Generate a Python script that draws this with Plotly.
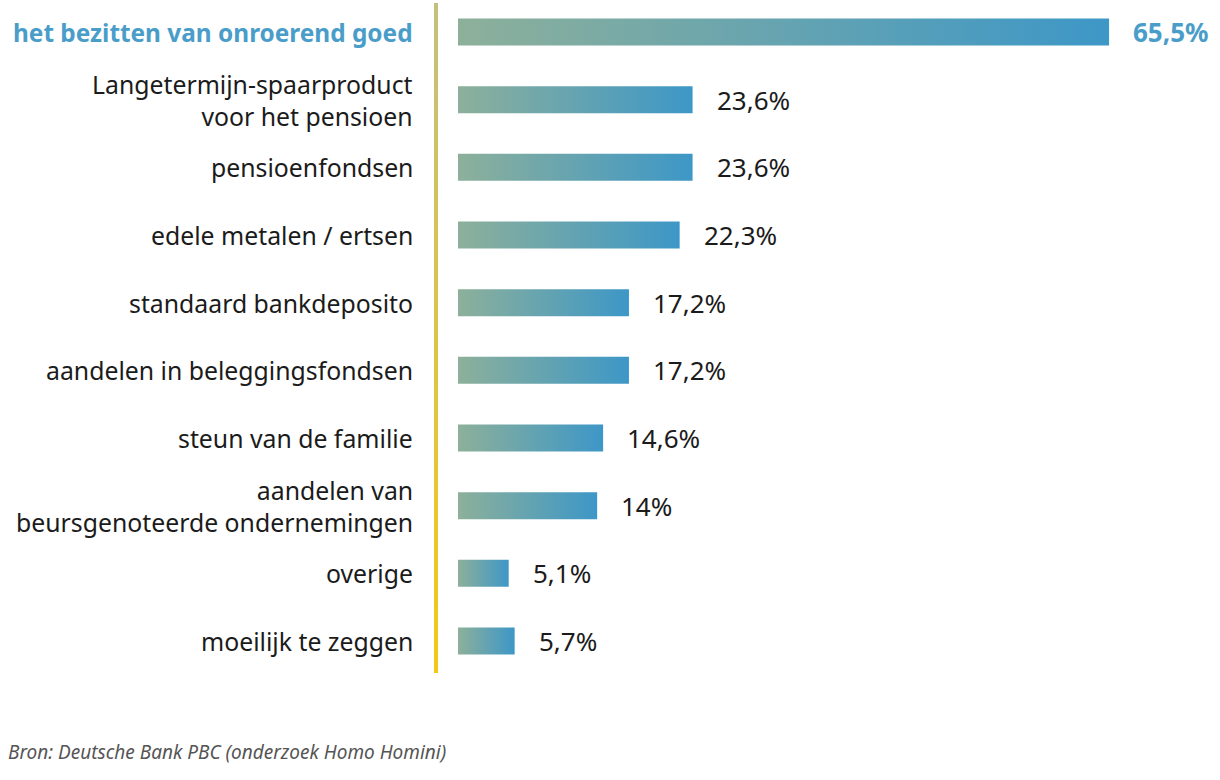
import plotly.graph_objects as go

categories = [
    "het bezitten van onroerend goed",
    "Langetermijn-spaarproduct<br>voor het pensioen",
    "pensioenfondsen",
    "edele metalen / ertsen",
    "standaard bankdeposito",
    "aandelen in beleggingsfondsen",
    "steun van de familie",
    "aandelen van<br>beursgenoteerde ondernemingen",
    "overige",
    "moeilijk te zeggen",
]
values = [65.5, 23.6, 23.6, 22.3, 17.2, 17.2, 14.6, 14.0, 5.1, 5.7]
value_labels = ["65,5%", "23,6%", "23,6%", "22,3%", "17,2%", "17,2%", "14,6%", "14%", "5,1%", "5,7%"]
highlight = [True] + [False] * 9
source = "Bron: Deutsche Bank PBC (onderzoek Homo Homini)"

FONT = "Noto Sans"
BLUE = "#4a9dc9"
DARK = "#1b1b1b"
bar_scale = [[0, "#8db09a"], [1, "#3d97c7"]]
line_scale = [[0, "#f4c814"], [1, "#c4c07c"]]
half = 0.2

fig = go.Figure()
for i, v in enumerate(values):
    fig.add_trace(go.Scatter(
        x=[0, v, v, 0, 0], y=[i - half, i - half, i + half, i + half, i - half],
        mode="lines", line=dict(width=0), fill="toself",
        fillgradient=dict(type="horizontal", colorscale=bar_scale),
        hoverinfo="skip", showlegend=False,
    ))

# vertical gradient axis line
fig.add_trace(go.Scatter(
    x=[0, 0.0051, 0.0051, 0, 0], y=[0, 0, 1, 1, 0],
    xaxis="x2", yaxis="y2",
    mode="lines", line=dict(width=0), fill="toself",
    fillgradient=dict(type="vertical", colorscale=line_scale),
    hoverinfo="skip", showlegend=False,
))

annotations = []
for i, (c, v, lab, h) in enumerate(zip(categories, values, value_labels, highlight)):
    col = BLUE if h else DARK
    txt_c = f"<b>{c}</b>" if h else c
    txt_v = f"<b>{lab}</b>" if h else lab
    annotations.append(dict(
        xref="paper", yref="y", x=0, y=i, xshift=-19, xanchor="right", yanchor="middle",
        text=txt_c, showarrow=False, align="right",
        font=dict(family=FONT, size=24.4 if h else 24.8, color=col),
    ))
    annotations.append(dict(
        xref="x", yref="y", x=v, y=i, xshift=22, xanchor="left", yanchor="middle",
        text=txt_v, showarrow=False,
        font=dict(family=FONT, size=26, color=col),
    ))
annotations.append(dict(
    xref="paper", yref="paper", x=0, y=0, xshift=-428, yshift=-79,
    xanchor="left", yanchor="middle", text=f"<i>{source}</i>", showarrow=False,
    font=dict(family=FONT, size=19, color="#555555"),
))

fig.update_layout(
    width=1220, height=780,
    margin=dict(l=434, r=0, t=3, b=107),
    paper_bgcolor="white", plot_bgcolor="white",
    xaxis=dict(range=[-2.414, 76.66], visible=False, fixedrange=True),
    yaxis=dict(range=[9.473, -0.4286], visible=False, fixedrange=True),
    xaxis2=dict(range=[0, 1], overlaying="x", visible=False),
    yaxis2=dict(range=[0, 1], overlaying="y", visible=False),
    annotations=annotations,
    showlegend=False,
    font=dict(family=FONT),
)
fig.write_html(
    "out.html",
    config={"displayModeBar": False, "staticPlot": True},
    post_script="document.body.style.margin='0';document.body.style.overflow='hidden';",
)
